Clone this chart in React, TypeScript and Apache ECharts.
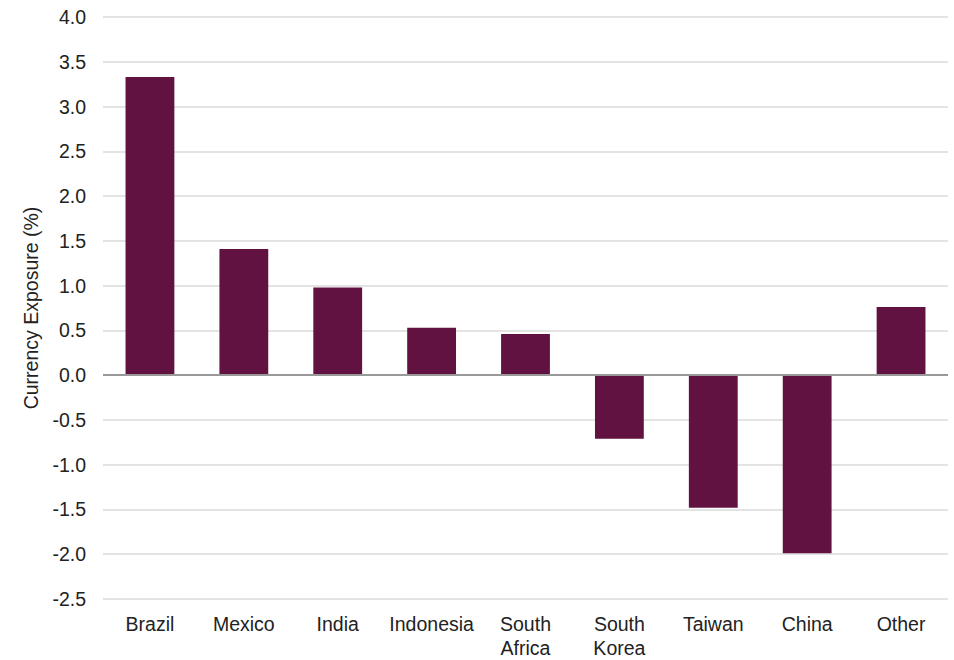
import React, { useEffect, useRef } from "react";
import * as echarts from "echarts";

const categories = ["Brazil", "Mexico", "India", "Indonesia", "South\nAfrica", "South\nKorea", "Taiwan", "China", "Other"];
const exposure = [3.33, 1.41, 0.98, 0.53, 0.46, -0.71, -1.48, -1.99, 0.76];
const yMin = -2.5;
const yMax = 4.0;
const yStep = 0.5;

export default function App() {
  const ref = useRef<HTMLDivElement>(null);
  useEffect(() => {
    if (!ref.current) return;
    const chart = echarts.init(ref.current, undefined, { renderer: "svg" });
    chart.setOption({
      animation: false,
      backgroundColor: "#ffffff",
      textStyle: { fontFamily: "Liberation Sans, Arial, sans-serif" },
      grid: { left: 103, right: 6, top: 17, bottom: 53, containLabel: false },
      xAxis: {
        type: "category",
        data: categories,
        axisLine: { show: false, onZero: false },
        axisTick: { show: false },
        axisLabel: { color: "#222", fontSize: 19.5, margin: 13, lineHeight: 24, interval: 0 },
        splitLine: { show: false },
      },
      yAxis: {
        type: "value",
        min: yMin,
        max: yMax,
        interval: yStep,
        name: "Currency Exposure (%)",
        nameLocation: "middle",
        nameGap: 60,
        nameTextStyle: { color: "#222", fontSize: 19.5 },
        axisLine: { show: false },
        axisTick: { show: false },
        axisLabel: { color: "#222", fontSize: 19.5, margin: 17, formatter: (v: number) => v.toFixed(1) },
        splitLine: { lineStyle: { color: "#e3e3e3", width: 2 } },
      },
      series: [
        {
          type: "bar",
          data: exposure,
          barWidth: "52%",
          itemStyle: { color: "#621240" },
          markLine: {
            silent: true,
            symbol: "none",
            label: { show: false },
            lineStyle: { color: "#999999", width: 2, type: "solid" },
            data: [{ yAxis: 0 }],
          },
        },
      ],
    });
    return () => chart.dispose();
  }, []);
  return <div ref={ref} style={{ position: "absolute", left: 0, top: 0, width: 954, height: 660 }} />;
}
